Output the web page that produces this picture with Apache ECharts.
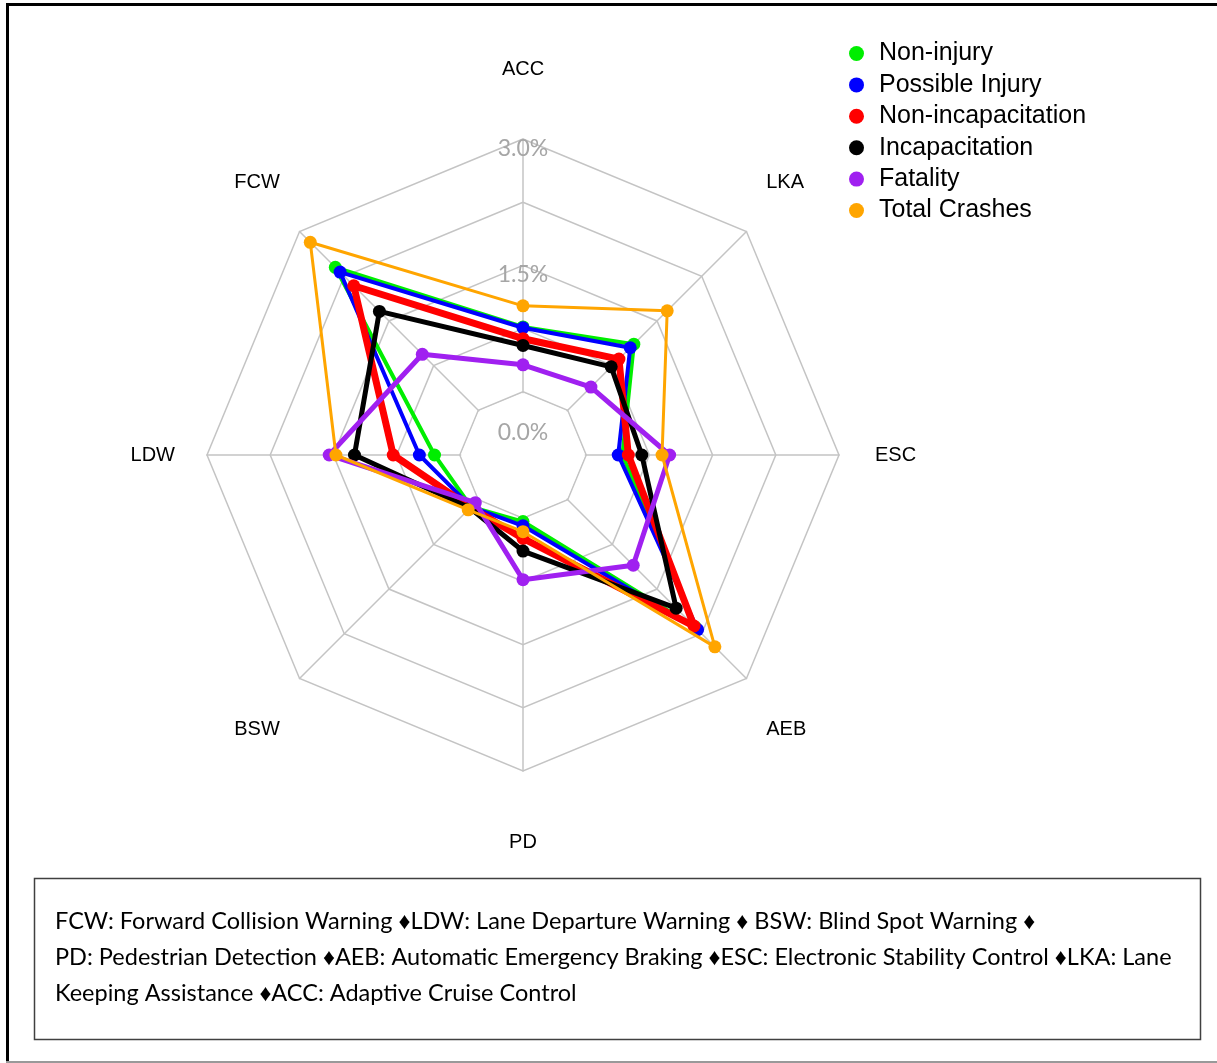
<!DOCTYPE html>
<html><head><meta charset="utf-8">
<script src="https://cdn.jsdelivr.net/npm/echarts@6/dist/echarts.min.js"></script>
<style>html,body{margin:0;padding:0;background:#fff}#c{width:1217px;height:1063px}</style>
</head><body><div id="c"></div>
<script>
// Axes (counter-clockwise from top, as ECharts lays out radar indicators)
const indicators = ['ACC', 'FCW', 'LDW', 'BSW', 'PD', 'AEB', 'ESC', 'LKA'];
const seriesNames = ['Non-injury', 'Possible Injury', 'Non-incapacitation', 'Incapacitation', 'Fatality', 'Total Crashes'];
// values in percent
const nonInjury        = [0.77, 2.40, 0.30, 0.12, 0.04, 2.14, 0.43, 1.11];
const possibleInjury   = [0.76, 2.32, 0.48, 0.12, 0.09, 2.18, 0.38, 1.05];
const nonIncapacitation= [0.63, 2.09, 0.79, 0.13, 0.24, 2.12, 0.50, 0.86];
const incapacitation   = [0.55, 1.66, 1.25, 0.14, 0.39, 1.82, 0.66, 0.73];
const fatality         = [0.32, 0.94, 1.55, 0.05, 0.73, 1.10, 0.99, 0.39];
const totalCrashes     = [1.02, 2.82, 1.47, 0.17, 0.16, 2.47, 0.90, 1.67];
const tickLabels = ['0.0%', '1.5%', '3.0%'];
const footnoteLines = [
  'FCW: Forward Collision Warning \u2666LDW: Lane Departure Warning \u2666 BSW: Blind Spot Warning \u2666',
  'PD: Pedestrian Detection \u2666AEB: Automatic Emergency Braking \u2666ESC: Electronic Stability Control \u2666LKA: Lane',
  'Keeping Assistance \u2666ACC: Adaptive Cruise Control'
];

const allValues = [nonInjury, possibleInjury, nonIncapacitation, incapacitation, fatality, totalCrashes];
const colors = ['#00EE00', '#0000FF', '#FF0000', '#000000', '#A020F0', '#FFA500'];
const widths = [4, 4, 7, 5, 5, 3];

const CX = 523, CY = 455, R = 316;
const AXMIN = -0.75, AXMAX = 3.0; // fmsb-style offset origin: 0 sits on the first ring

// label style per axis position (index order matches indicators)
const nameStyleKey = ['top', 'ul', 'left', 'll', 'bottom', 'll', 'right', 'ul'];

// white inner octagon (hides spokes inside the 0% ring)
const innerR = R * (0 - AXMIN) / (AXMAX - AXMIN) - 1.2;
const octPts = [];
for (let i = 0; i < 8; i++) {
  const a = Math.PI / 2 + i * Math.PI / 4;
  octPts.push([CX + innerR * Math.cos(a), CY - innerR * Math.sin(a)]);
}

const chart = echarts.init(document.getElementById('c'));
const pctFont = '23px Lato';
const graphics = [
  { type: 'polygon', shape: { points: octPts }, style: { fill: '#fff' }, z: 3, silent: true },
  { type: 'text', x: CX, y: 149, z: 4, style: { text: tickLabels[2], fill: '#A6A6A6', font: pctFont, align: 'center', verticalAlign: 'middle' } },
  { type: 'text', x: CX, y: 275, z: 4, style: { text: tickLabels[1], fill: '#A6A6A6', font: pctFont, align: 'center', verticalAlign: 'middle' } },
  { type: 'text', x: CX, y: 433, z: 4, style: { text: tickLabels[0], fill: '#A6A6A6', font: pctFont, align: 'center', verticalAlign: 'middle' } },
  // outer frame
  { type: 'line', shape: { x1: 7.5, y1: 3, x2: 7.5, y2: 1062 }, style: { stroke: '#000', lineWidth: 3 } },
  { type: 'line', shape: { x1: 6, y1: 4.5, x2: 1217, y2: 4.5 }, style: { stroke: '#000', lineWidth: 3 } },
  { type: 'line', shape: { x1: 6, y1: 1062, x2: 1217, y2: 1062 }, style: { stroke: '#999', lineWidth: 2 } },
  // footnote box
  { type: 'rect', shape: { x: 34.5, y: 878.5, width: 1166, height: 161 }, style: { fill: 'none', stroke: '#404040', lineWidth: 1.5 } }
];
footnoteLines.forEach((t, i) => {
  graphics.push({ type: 'text', x: 55, y: 921 + i * 36, style: { text: t, fill: '#000', font: '23.5px Lato', align: 'left', verticalAlign: 'middle' } });
});

const nameBase = { color: '#000', fontSize: 20, fontFamily: 'Liberation Sans' };
chart.setOption({
  animation: false,
  backgroundColor: '#fff',
  color: colors,
  legend: {
    orient: 'vertical', left: 844, top: 36, icon: 'circle',
    itemWidth: 15, itemHeight: 15, itemGap: 6.4,
    data: seriesNames,
    textStyle: { fontSize: 25, fontFamily: 'Liberation Sans', color: '#000', padding: [0, 0, 0, 10], lineHeight: 25 }
  },
  radar: {
    center: [CX, CY], radius: R, startAngle: 90, splitNumber: 5, shape: 'polygon',
    indicator: indicators.map(n => ({ name: n, min: AXMIN, max: AXMAX })),
    axisNameGap: 28,
    axisName: {
      color: '#000', fontSize: 20, fontFamily: 'Liberation Sans',
      formatter: function (name) {
        const k = nameStyleKey[indicators.indexOf(name)];
        return '{' + k + '|' + name + '}';
      },
      rich: {
        top:    Object.assign({ padding: [0, 0, 32, 0] }, nameBase),
        bottom: Object.assign({ padding: [33, 0, 0, 0] }, nameBase),
        left:   Object.assign({ padding: [0, 4, 0, 0] }, nameBase),
        right:  Object.assign({ padding: [0, 0, 0, 8] }, nameBase),
        ul:     Object.assign({ padding: [0, 0, 58, 0] }, nameBase),
        ll:     Object.assign({ padding: [62, 0, 0, 0] }, nameBase)
      }
    },
    splitLine: { lineStyle: { color: '#C4C4C4', width: 1.5 } },
    splitArea: { show: false },
    axisLine: { lineStyle: { color: '#C4C4C4', width: 1.5 } },
    axisTick: { show: false },
    axisLabel: { show: false }
  },
  graphic: { elements: graphics },
  series: seriesNames.map((name, i) => ({
    type: 'radar', name: name, z: 10 + i,
    symbol: 'circle', symbolSize: 13,
    lineStyle: { color: colors[i], width: widths[i] },
    itemStyle: { color: colors[i] },
    data: [{ name: name, value: allValues[i] }]
  }))
});
</script></body></html>
